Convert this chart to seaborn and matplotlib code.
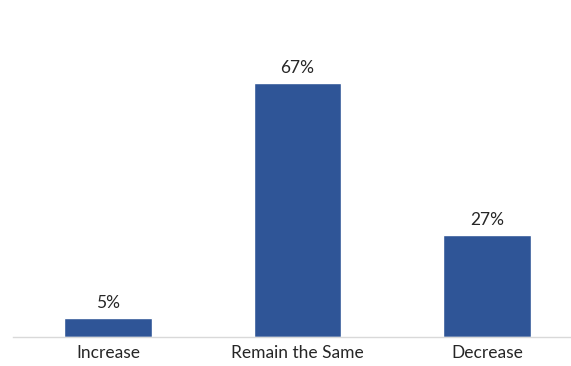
import matplotlib
matplotlib.use("Agg")
import matplotlib.pyplot as plt
import seaborn as sns
import pandas as pd

categories = ["Increase", "Remain the Same", "Decrease"]
values = [5, 67, 27]
value_labels = ["5%", "67%", "27%"]

df = pd.DataFrame({"category": categories, "value": values})

sns.set_theme(style="white")
plt.rcParams["font.family"] = ["Lato", "DejaVu Sans"]

fig = plt.figure(figsize=(5.71, 3.66), dpi=100)
ax = fig.add_axes([13.25 / 571, 29 / 366, 1 - 13.25 / 571, 1 - 29 / 366])

sns.barplot(data=df, x="category", y="value", color="#2F5597", width=0.464,
            saturation=1, ax=ax)

for patch, lab in zip(ax.patches, value_labels):
    ax.annotate(lab, (patch.get_x() + patch.get_width() / 2, patch.get_height()),
                xytext=(0, 5), textcoords="offset points",
                ha="center", va="bottom", fontsize=12.5, color="#262626")

ax.set_xlim(-0.5, (571 - 13.25) / 189.5 - 0.5)
ax.set_ylim(0, 88.9)
ax.set_xlabel("")
ax.set_ylabel("")
ax.set_yticks([])
ax.tick_params(axis="x", length=0, pad=6, labelsize=12.5, labelcolor="#262626")
for side in ["top", "right", "left"]:
    ax.spines[side].set_visible(False)
ax.spines["bottom"].set_color("#D9D9D9")
ax.spines["bottom"].set_linewidth(1)

fig.savefig("out.png", dpi=100)
